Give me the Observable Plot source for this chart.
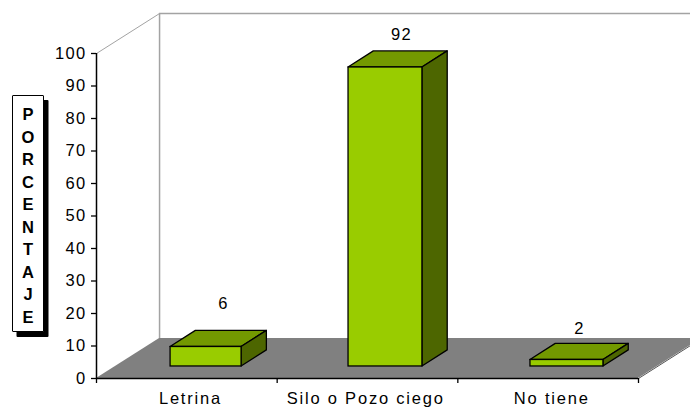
<!DOCTYPE html>
<html>
<head>
<meta charset="utf-8">
<script src="https://cdn.jsdelivr.net/npm/d3@7"></script>
<script src="https://cdn.jsdelivr.net/npm/@observablehq/plot@0.6"></script>
<style>
  html, body { margin: 0; padding: 0; background: #fff; }
  #chart { position: relative; width: 690px; height: 408px; overflow: hidden; font-family: "Liberation Sans", Arial, sans-serif; }
  #chart svg { display: block; }
  #chart svg text { letter-spacing: 1.3px; }
  #chart svg .cat text { letter-spacing: 1.8px; }
  #ytitle {
    position: absolute; left: 12px; top: 95px; width: 30px; height: 235px;
    border: 1px solid #000; background: #fff; box-shadow: 4.5px 5px 0 #000;
    border-radius: 1px; display: flex; justify-content: center;
  }
  #ytitle span {
    writing-mode: vertical-rl; text-orientation: upright;
    font: bold 16.5px "Liberation Sans", Arial, sans-serif;
    letter-spacing: 4.55px; line-height: 30px; padding-top: 8.5px; color: #000;
  }
</style>
</head>
<body>
<div id="chart"></div>
<script>
const categories = ["Letrina", "Silo o Pozo ciego", "No tiene"];
const values = [6, 92, 2];
const valueTicks = [0, 10, 20, 30, 40, 50, 60, 70, 80, 90, 100];
const categoryEdges = [0, 1, 2, 3];
const barStarts = [0.41, 1.395, 2.402];
const barEnds = [0.803, 1.804, 2.806];
const nameSpots = [0.52, 1.49, 2.52];
const labelSpots = [0.703, 1.688, 2.673];
const labelLevels = [23.1, 105.8, 15.4];
const axisTitle = "PORCENTAJE";

// 3-D projection, in scale units
const floorDX = 0.349, floorDY = 12.3;     // depth of the chart box
const barDX = 0.14, barDY = 4.95;          // depth of a bar
const barInsetY = 3.7;                     // bars stand part-way back on the floor

const bars = categories.map((name, i) => ({
  name, value: values[i],
  x0: barStarts[i], x1: barEnds[i],
  y0: barInsetY, y1: barInsetY + values[i]
}));

const fl = [{y: 0, x1: 0, x2: 3}, {y: floorDY, x1: floorDX, x2: 3 + floorDX}];

const side = bars.flatMap(b => [
  {name: b.name, x: b.x1, y1: b.y0, y2: b.y1},
  {name: b.name, x: b.x1 + barDX, y1: b.y0 + barDY, y2: b.y1 + barDY}
]);
const top3d = bars.flatMap(b => [
  {name: b.name, y: b.y1, x1: b.x0, x2: b.x1},
  {name: b.name, y: b.y1 + barDY, x1: b.x0 + barDX, x2: b.x1 + barDX}
]);

const font = 16.5;
const wall = "#a3a3a3";

const plot = Plot.plot({
  width: 690, height: 408,
  marginLeft: 96, marginRight: 52, marginTop: 53, marginBottom: 30,
  x: {domain: [0, 3]},
  y: {domain: [0, 100]},
  style: {fontFamily: '"Liberation Sans", Arial, sans-serif', background: "#fff", color: "#000", overflow: "hidden"},
  marks: [
    Plot.area(fl, {x1: "x1", x2: "x2", y1: "y", y2: "y", fill: "#808080"}),
    Plot.ruleX([floorDX], {y1: floorDY, y2: 100 + floorDY, stroke: wall, strokeWidth: 1.5}),
    Plot.ruleY([100 + floorDY], {x1: floorDX, x2: 3 + floorDX, stroke: wall, strokeWidth: 1.5}),
    Plot.link([0], {x1: 0, y1: 100, x2: floorDX, y2: 100 + floorDY, stroke: wall, strokeWidth: 1}),
    Plot.link([0], {x1: 3, y1: 0, x2: 3 + floorDX, y2: floorDY, stroke: "#555", strokeWidth: 1}),
    Plot.area(top3d, {x1: "x1", x2: "x2", y1: "y", y2: "y", z: "name", fill: "#739900", stroke: "#000", strokeWidth: 1.3}),
    Plot.area(side, {x1: "x", x2: "x", y1: "y1", y2: "y2", z: "name", fill: "#4d6600", stroke: "#000", strokeWidth: 1.3}),
    Plot.rect(bars, {x1: "x0", x2: "x1", y1: "y0", y2: "y1", fill: "#99cc00", stroke: "#000", strokeWidth: 1.3}),
    Plot.ruleX([0], {y1: 0, y2: 100, stroke: "#000", strokeWidth: 1.5}),
    Plot.ruleY([0], {x1: 0, x2: 3, stroke: "#000", strokeWidth: 1.5}),
    Plot.axisY({ticks: valueTicks, label: null, tickSize: 5, tickPadding: 5, fontSize: font, strokeWidth: 1.3}),
    Plot.axisX({ticks: categoryEdges, tickFormat: () => "", label: null, tickSize: 5, strokeWidth: 1.3}),
    Plot.text(categories, {x: (d, i) => nameSpots[i], y: 0, dy: 20, text: d => d, fontSize: font, fill: "#000", className: "cat"}),
    Plot.text(values, {x: (d, i) => labelSpots[i], y: (d, i) => labelLevels[i], text: d => String(d), fontSize: font, fill: "#000"})
  ]
});

const chart = document.getElementById("chart");
chart.appendChild(plot);
const box = document.createElement("div");
box.id = "ytitle";
const label = document.createElement("span");
label.textContent = axisTitle;
box.appendChild(label);
chart.appendChild(box);
</script>
</body>
</html>
